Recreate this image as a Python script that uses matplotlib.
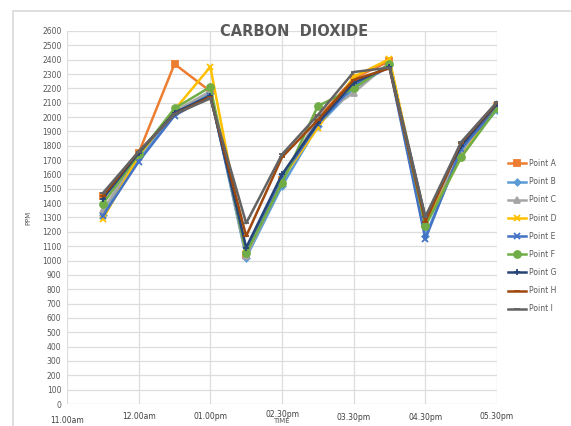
import matplotlib
matplotlib.use("Agg")
import matplotlib.pyplot as plt
from matplotlib.patches import Rectangle
from matplotlib.transforms import ScaledTranslation

tick_labels = ["11.00am", "12.00am", "01.00pm", "02.30pm", "03.30pm", "04.30pm", "05.30pm"]
tick_pos = [0, 1, 2, 3, 4, 5, 6]
x_vals = [0.5, 1.0, 1.5, 2.0, 2.5, 3.0, 3.5, 4.0, 4.5, 5.0, 5.5, 6.0]

point_a = [1450, 1750, 2370, 2180, 1040, 1560, 1990, 2270, 2390, 1260, 1750, 2080]
point_b = [1320, 1720, 2030, 2170, 1020, 1520, 1940, 2200, 2360, 1170, 1760, 2050]
point_c = [1350, 1740, 2040, 2180, 1030, 1550, 2000, 2170, 2380, 1300, 1740, 2070]
point_d = [1290, 1730, 2050, 2350, 1050, 1570, 1925, 2280, 2405, 1250, 1720, 2080]
point_e = [1310, 1690, 2010, 2150, 1070, 1580, 1950, 2220, 2350, 1150, 1780, 2060]
point_f = [1395, 1740, 2060, 2210, 1050, 1540, 2077, 2200, 2370, 1240, 1720, 2060]
point_g = [1430, 1750, 2030, 2150, 1090, 1600, 1960, 2240, 2350, 1300, 1800, 2090]
point_h = [1450, 1760, 2020, 2140, 1170, 1720, 1980, 2260, 2340, 1270, 1820, 2100]
point_i = [1470, 1760, 2020, 2130, 1260, 1740, 2014, 2314, 2345, 1305, 1826, 2105]

series = [
    ("Point A", point_a, "#ED7D31", "s", 4.5),
    ("Point B", point_b, "#5B9BD5", "D", 3.2),
    ("Point C", point_c, "#A5A5A5", "^", 4.5),
    ("Point D", point_d, "#FFC000", "x", 4.5),
    ("Point E", point_e, "#4472C4", "x", 4.5),
    ("Point F", point_f, "#70AD47", "o", 5),
    ("Point G", point_g, "#264478", "+", 4.5),
    ("Point H", point_h, "#9E480E", "_", 4.5),
    ("Point I", point_i, "#636363", "_", 4.5),
]

fig = plt.figure(figsize=(5.71, 4.26), dpi=100)
fig.patches.append(Rectangle((13/571, -0.1), 1.2, 1 - 11/426 + 0.1, transform=fig.transFigure,
                             fill=False, edgecolor="#D9D9D9", linewidth=1.2))
ax = fig.add_axes([67/571, 22/426, (497-67)/571, (404-31)/426])

lines = []
for name, vals, col, mk, ms in series:
    l, = ax.plot(x_vals, vals, color=col, marker=mk, markersize=ms, linewidth=1.8,
                 markeredgewidth=1.3, label=name)
    lines.append(l)

ax.set_xlim(0, 6)
ax.set_ylim(0, 2600)
ax.set_yticks(range(0, 2601, 100))
ax.set_xticks(tick_pos)
ax.set_xticklabels(tick_labels)
ax.grid(True, color="#DDDDDD", linewidth=0.9)
ax.set_axisbelow(True)
for s in ax.spines.values():
    s.set_visible(False)
ax.tick_params(axis="both", length=0, labelsize=5.5, colors="#595959")
ax.tick_params(axis="x", pad=6, labelcolor="#404040")
ax.tick_params(axis="y", pad=4)
xl = ax.get_xticklabels()
offs = [-2.5, 0, 0, 2, -0.5, -0.5, 0]
for lab, o in zip(xl, offs):
    lab.set_transform(lab.get_transform() + ScaledTranslation(0, o/72, fig.dpi_scale_trans))

ax.set_ylabel("PPM", fontsize=5, color="#595959", labelpad=8)
fig.text(281/571, 1 - 421/426, "TIME", fontsize=5, color="#595959", ha="center", va="center")

fig.text(294/571, 1 - 31/426, "CARBON  DIOXIDE", fontsize=10.5, fontweight="bold",
         color="#595959", ha="center", va="center")

leg = fig.legend(handles=lines, loc="upper left", bbox_to_anchor=(505/571, 1 - 156/426),
                 frameon=False, fontsize=5.5, labelspacing=1.2, handlelength=2.4,
                 handletextpad=0.3, borderaxespad=0, labelcolor="#595959")

fig.savefig("out.png", dpi=100)
